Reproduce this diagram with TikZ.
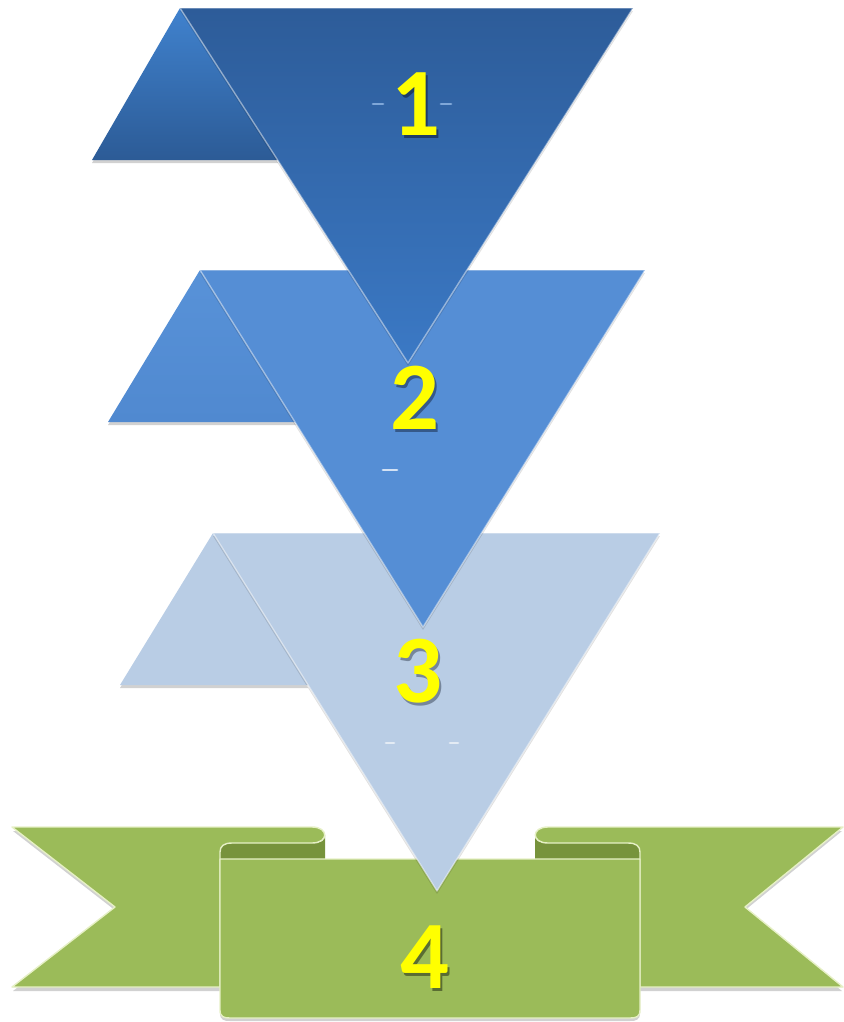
\documentclass[tikz,border=0pt]{standalone}
\usepackage{fontspec}
\setmainfont{Carlito}
\definecolor{taTop}{HTML}{2D5C99}
\definecolor{taBot}{HTML}{3B79C5}
\definecolor{faTop}{HTML}{4082CE}
\definecolor{faBot}{HTML}{2C5B96}
\definecolor{tbmid}{HTML}{558ED5}
\definecolor{tbTop}{HTML}{5892D8}
\definecolor{tbBot}{HTML}{5089D0}
\definecolor{tclight}{HTML}{B9CDE5}
\definecolor{rgreen}{HTML}{9BBB59}
\definecolor{rdark}{HTML}{77933C}
\definecolor{redge}{HTML}{E6F0C6}
\definecolor{numyellow}{HTML}{FFFF00}
\definecolor{dashA}{HTML}{7FA7D8}
\definecolor{shA}{HTML}{1E3C66}
\definecolor{shB}{HTML}{35598A}
\definecolor{shC}{HTML}{76869B}
\definecolor{shD}{HTML}{5A6D33}
\newcommand{\shadnum}[2]{\makebox[0pt][l]{\hspace{1.4pt}\raisebox{-1.6pt}{\textcolor{#1}{#2}}}#2}
\begin{document}
\begin{tikzpicture}[x=0.02cm,y=-0.02cm,
  num/.style={font=\fontsize{55}{60}\selectfont\bfseries, text=numyellow, inner sep=0pt},
  mainedge/.style={draw=white, draw opacity=0.45, line width=0.8pt, line join=round},
  shadowfill/.style={fill=black, opacity=0.18},
  ribbonpart/.style={fill=rgreen, draw=redge, line width=0.8pt, line join=round},
  rollinside/.style={fill=rdark},
  ghostdash/.style={line width=1.6pt, line cap=round}]
\useasboundingbox (0,0) rectangle (843,1022);

% ---------------- ribbon ----------------
\fill[shadowfill, shift={(1,4)}] (12,827) -- (220,827) -- (220,987) -- (12,987) -- (115,907) -- cycle;
\fill[shadowfill, shift={(-1,4)}] (843,827) -- (640,827) -- (640,987) -- (843,987) -- (745,907) -- cycle;
\fill[shadowfill, shift={(0,3)}] (220,900) -- (220,1010) .. controls (220,1017) and (224,1018) .. (230,1018) -- (630,1018) .. controls (636,1018) and (640,1017) .. (640,1010) -- (640,900) -- cycle;
% left roll inside
\fill[rollinside] (232,843) -- (312,843) .. controls (322,843) and (325,840) .. (325,835) -- (325,859) -- (220,859) -- (220,852) .. controls (220,846) and (224,843) .. (232,843) -- cycle;
% left tail
\path[ribbonpart] (12,827) -- (312,827) .. controls (329,827) and (329,843) .. (312,843) -- (232,843) .. controls (224,843) and (220,846) .. (220,852) -- (220,987) -- (12,987) -- (115,907) -- cycle;
% right roll inside
\fill[rollinside] (628,843) -- (548,843) .. controls (538,843) and (535,840) .. (535,835) -- (535,859) -- (640,859) -- (640,852) .. controls (640,846) and (636,843) .. (628,843) -- cycle;
% right tail
\path[ribbonpart] (843,827) -- (548,827) .. controls (531,827) and (531,843) .. (548,843) -- (628,843) .. controls (636,843) and (640,846) .. (640,852) -- (640,987) -- (843,987) -- (745,907) -- cycle;
% centre panel
\path[ribbonpart] (220,859) -- (220,1010) .. controls (220,1017) and (224,1018) .. (230,1018) -- (630,1018) .. controls (636,1018) and (640,1017) .. (640,1010) -- (640,859) -- cycle;

% ---------------- triangle 3 ----------------
\fill[shadowfill, shift={(0,3)}] (213,533) -- (120,685) -- (308,685) -- cycle;
\fill[tclight] (213,533) -- (120,685) -- (308,685) -- cycle;
\fill[shadowfill, opacity=0.12, shift={(0,3)}] (213,533) -- (660,533) -- (437,891) -- cycle;
\path[fill=tclight, mainedge] (213,533) -- (660,533) -- (437,891) -- cycle;
\draw[ghostdash, white, opacity=0.6] (386,743) -- (394,743);
\draw[ghostdash, white, opacity=0.6] (450,743) -- (458,743);

% ---------------- triangle 2 ----------------
\fill[shadowfill, shift={(0,3)}] (200,270) -- (108,422) -- (296,422) -- cycle;
\path[top color=tbTop, bottom color=tbBot] (200,270) -- (108,422) -- (296,422) -- cycle;
\fill[shadowfill, opacity=0.12, shift={(0,3)}] (200,270) -- (645,270) -- (423,627) -- cycle;
\path[fill=tbmid, mainedge] (200,270) -- (645,270) -- (423,627) -- cycle;
\draw[ghostdash, white, opacity=0.75] (383,470) -- (397,470);

% ---------------- triangle 1 ----------------
\fill[shadowfill, shift={(0,3)}] (180,8) -- (92,160) -- (278,160) -- cycle;
\path[top color=faTop, bottom color=faBot] (180,8) -- (92,160) -- (278,160) -- cycle;
\fill[shadowfill, opacity=0.12, shift={(0,3)}] (180,8) -- (633,8) -- (408,363) -- cycle;
\path[top color=taTop, bottom color=taBot, mainedge] (180,8) -- (633,8) -- (408,363) -- cycle;
\draw[ghostdash, dashA] (373,104) -- (383,104);
\draw[ghostdash, dashA] (441,104) -- (451,104);

% ---------------- numbers ----------------
\node[num] (n1) at (416,106) {\shadnum{shA}{1}};
\node[num] (n2) at (415,399) {\shadnum{shB}{2}};
\node[num] (n3) at (418,673) {\shadnum{shC}{3}};
\node[num] (n4) at (425,959) {\shadnum{shD}{4}};
\end{tikzpicture}
\end{document}
